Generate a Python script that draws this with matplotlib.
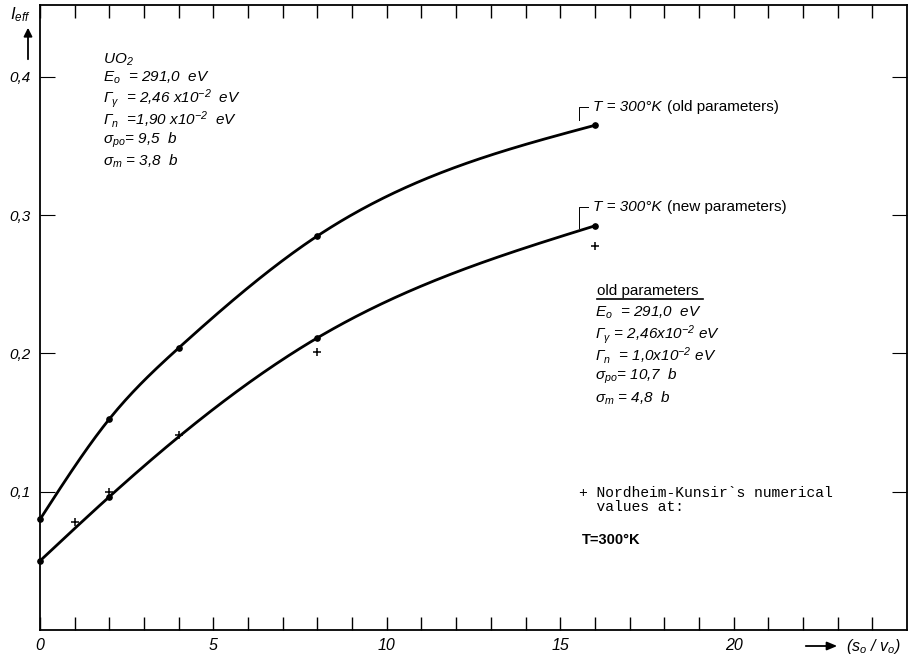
import numpy as np
import matplotlib
matplotlib.use("Agg")
import matplotlib.pyplot as plt

plt.rcParams['font.family'] = ['Liberation Sans', 'DejaVu Sans']
plt.rcParams['mathtext.fontset'] = 'custom'
plt.rcParams['mathtext.it'] = 'Liberation Sans:italic'
plt.rcParams['mathtext.rm'] = 'Liberation Sans:italic'
plt.rcParams['mathtext.default'] = 'it'

# ---- data ----
x_old = [0, 2, 4, 8, 16]
y_old = [0.080, 0.1526, 0.204, 0.285, 0.365]
x_new = [0, 2, 8, 16]
y_new = [0.050, 0.0964, 0.2113, 0.2923]
x_nk = [1, 2, 4, 8, 16]
y_nk = [0.078, 0.0996, 0.1408, 0.201, 0.278]

xticks = list(range(0, 25))
xticklabels = [str(v) if v % 5 == 0 else "" for v in xticks]
yticks = [0.1, 0.2, 0.3, 0.4]
yticklabels = ["0,1", "0,2", "0,3", "0,4"]

left_block = ["UO$_2$",
              "E$_o$  = 291,0  eV",
              "$\\Gamma_{\\gamma}$  = 2,46 x10$^{-2}$  eV",
              "$\\Gamma_n$  =1,90 x10$^{-2}$  eV",
              "$\\sigma_{po}$= 9,5  b",
              "$\\sigma_m$ = 3,8  b"]
right_block = ["E$_o$  = 291,0  eV",
               "$\\Gamma_{\\gamma}$ = 2,46x10$^{-2}$ eV",
               "$\\Gamma_n$  = 1,0x10$^{-2}$ eV",
               "$\\sigma_{po}$= 10,7  b",
               "$\\sigma_m$ = 4,8  b"]


def natural_spline(xs, ys, xe):
    xs = np.asarray(xs, float); ys = np.asarray(ys, float)
    n = len(xs)
    h = np.diff(xs)
    A = np.zeros((n, n)); b = np.zeros(n)
    A[0, 0] = 1; A[-1, -1] = 1
    for i in range(1, n - 1):
        A[i, i - 1] = h[i - 1]
        A[i, i] = 2 * (h[i - 1] + h[i])
        A[i, i + 1] = h[i]
        b[i] = 6 * ((ys[i + 1] - ys[i]) / h[i] - (ys[i] - ys[i - 1]) / h[i - 1])
    M = np.linalg.solve(A, b)
    out = np.empty_like(xe)
    for k, xv in enumerate(xe):
        i = min(max(np.searchsorted(xs, xv) - 1, 0), n - 2)
        t1 = xs[i + 1] - xv; t0 = xv - xs[i]
        out[k] = (M[i] * t1 ** 3 + M[i + 1] * t0 ** 3) / (6 * h[i]) \
            + (ys[i] / h[i] - M[i] * h[i] / 6) * t1 \
            + (ys[i + 1] / h[i] - M[i + 1] * h[i] / 6) * t0
    return out


fig = plt.figure(figsize=(9.16, 6.59), dpi=100)
ax = fig.add_axes([40 / 916, 29 / 659, 867 / 916, 625 / 659])
ax.set_xlim(0, 25)
ax.set_ylim(0, 0.452)


def px(xp, yp):
    """image pixel position -> data coordinates (for text placement)"""
    return (xp - 40) / 34.68, (630 - yp) / 1383.0


xe = np.linspace(0, 16, 300)
ax.plot(xe, natural_spline(x_old, y_old, xe), color='black', lw=2.0)
ax.plot(xe, natural_spline(x_new, y_new, xe), color='black', lw=2.0)
ax.plot(x_old, y_old, 'o', color='black', ms=3.8, clip_on=False, zorder=5)
ax.plot(x_new, y_new, 'o', color='black', ms=3.8, clip_on=False, zorder=5)
ax.plot(x_nk, y_nk, '+', color='black', ms=6, mew=1.1)

for s in ax.spines.values():
    s.set_linewidth(1.3)

ax.set_xticks(xticks)
ax.set_xticklabels(xticklabels, fontstyle='italic', fontsize=11.5)
ax.set_yticks(yticks)
ax.set_yticklabels(yticklabels, fontstyle='italic', fontsize=11)
ax.tick_params(axis='x', direction='in', length=9.5, width=1.0, top=True, pad=6)
ax.tick_params(axis='y', direction='in', length=10.5, width=0.8, right=True, pad=7)

FS = 11


def label(yp_top, yp_bot, txt, extra):
    xl, yt = px(579, yp_top)
    _, yb = px(579, yp_bot)
    x2, _ = px(588, yp_top)
    ax.plot([xl, xl, x2], [yb, yt, yt], color='black', lw=0.7)
    xt, _ = px(593, yp_top)
    t = ax.text(xt, yt, txt, fontsize=FS, fontstyle='italic',
                va='center', ha='left')
    ax.annotate(extra, xy=(1, 0.5), xycoords=t, xytext=(4, 0),
                textcoords='offset points', va='center', ha='left', fontsize=FS)


label(107, 120, "T = 300°K", "(old parameters)")
label(207, 228, "T = 300°K", "(new parameters)")

# left parameter block
left_y = [60, 78, 98, 119, 140, 161]
for s, yp in zip(left_block, left_y):
    ax.text(*px(103, yp), s, fontsize=FS, fontstyle='italic',
            va='center', ha='left')

# right parameter block
ax.text(*px(597, 291), "old parameters", fontsize=FS, va='center', ha='left')
xa, ya = px(597, 299)
xb, _ = px(703, 299)
ax.plot([xa, xb], [ya, ya], color='black', lw=1.2)
right_y = [313, 334, 355, 376, 398]
for s, yp in zip(right_block, right_y):
    ax.text(*px(595, yp), s, fontsize=FS, fontstyle='italic',
            va='center', ha='left')

# Nordheim-Kunsir note
ax.text(*px(579, 486), "+ Nordheim-Kunsir`s numerical\n  values at:",
        fontsize=10.5, family='Liberation Mono', va='top', ha='left',
        linespacing=1.0)
ax.text(*px(582, 540), "T=300°K", fontsize=10.5, fontweight='bold',
        va='center', ha='left')

# axis labels with arrows
fig.text(10 / 916, 1 - 15 / 659, "I$_{eff}$", fontsize=12, fontstyle='italic',
         va='center', ha='left')
fig.add_artist(matplotlib.patches.FancyArrowPatch(
    (28 / 916, 1 - 62 / 659), (28 / 916, 1 - 25 / 659),
    transform=fig.transFigure, arrowstyle='-|>,head_length=5,head_width=2.5',
    color='black', lw=1.3))
fig.add_artist(matplotlib.patches.FancyArrowPatch(
    (803 / 916, 1 - 646 / 659), (840 / 916, 1 - 646 / 659),
    transform=fig.transFigure, arrowstyle='-|>,head_length=6,head_width=2.5',
    color='black', lw=1.3))
fig.text(846 / 916, 1 - 646 / 659, "(s$_o$ / v$_o$)", fontsize=11.5,
         fontstyle='italic', va='center', ha='left')

fig.savefig("out.png", dpi=100)
